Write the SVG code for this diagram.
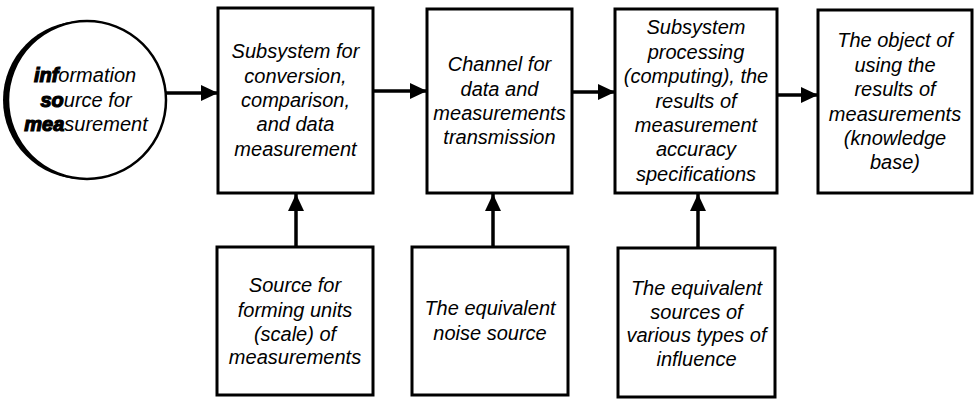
<svg xmlns="http://www.w3.org/2000/svg" width="976" height="401" viewBox="0 0 976 401">
  <style>
    .box { fill: #fff; stroke: #000; stroke-width: 3; }
    .lbl { font-family: "Liberation Sans", Arial, sans-serif; font-style: italic; font-size: 20px; fill: #000; text-anchor: middle; }
    .smear { font-weight: bold; stroke: #000; stroke-width: 1.2; }
    .wire { stroke: #000; stroke-width: 3.5; fill: none; }
  </style>
  <defs>
    <marker id="head" markerUnits="userSpaceOnUse" markerWidth="18" markerHeight="16" refX="17" refY="8" orient="auto">
      <path d="M0,0 L17,8 L0,16 z" fill="#000"/>
    </marker>
  </defs>
  <rect width="976" height="401" fill="#fff"/>

  <!-- source circle with heavy left rim -->
  <g id="info-source">
    <circle cx="82" cy="100" r="79" fill="#000"/>
    <circle cx="87" cy="100" r="79" fill="#fff" stroke="#000" stroke-width="2.5"/>
    <text class="lbl" x="85" y="82"><tspan class="smear">inf</tspan>ormation</text>
    <text class="lbl" x="86" y="107"><tspan class="smear">so</tspan>urce for</text>
    <text class="lbl" x="86" y="131"><tspan class="smear">mea</tspan>surement</text>
  </g>

  <g id="conversion">
    <rect class="box" x="218" y="8" width="155" height="185"/>
    <text class="lbl" x="295.5" y="58">Subsystem for</text>
    <text class="lbl" x="295.5" y="82.5">conversion,</text>
    <text class="lbl" x="295.5" y="107">comparison,</text>
    <text class="lbl" x="295.5" y="131">and data</text>
    <text class="lbl" x="295.5" y="155.5">measurement</text>
  </g>

  <g id="channel">
    <rect class="box" x="427" y="9" width="145" height="184"/>
    <text class="lbl" x="499.5" y="71">Channel for</text>
    <text class="lbl" x="499.5" y="95.5">data and</text>
    <text class="lbl" x="499.5" y="120">measurements</text>
    <text class="lbl" x="499.5" y="144">transmission</text>
  </g>

  <g id="processing">
    <rect class="box" x="615" y="9" width="162" height="184"/>
    <text class="lbl" x="696" y="34">Subsystem</text>
    <text class="lbl" x="696" y="58.5">processing</text>
    <text class="lbl" x="696" y="83">(computing), the</text>
    <text class="lbl" x="696" y="107.5">results of</text>
    <text class="lbl" x="696" y="132">measurement</text>
    <text class="lbl" x="696" y="156">accuracy</text>
    <text class="lbl" x="696" y="180.5">specifications</text>
  </g>

  <g id="knowledge">
    <rect class="box" x="818" y="10" width="154" height="183"/>
    <text class="lbl" x="895" y="47">The object of</text>
    <text class="lbl" x="895" y="71.5">using the</text>
    <text class="lbl" x="895" y="96">results of</text>
    <text class="lbl" x="895" y="120.5">measurements</text>
    <text class="lbl" x="895" y="145">(knowledge</text>
    <text class="lbl" x="895" y="169">base)</text>
  </g>

  <g id="units-source">
    <rect class="box" x="217" y="247" width="156" height="148"/>
    <text class="lbl" x="295" y="292">Source for</text>
    <text class="lbl" x="295" y="316.5">forming units</text>
    <text class="lbl" x="295" y="340.5">(scale) of</text>
    <text class="lbl" x="295" y="364">measurements</text>
  </g>

  <g id="noise-source">
    <rect class="box" x="412" y="247" width="156" height="148"/>
    <text class="lbl" x="490" y="315">The equivalent</text>
    <text class="lbl" x="490" y="339.5">noise source</text>
  </g>

  <g id="influence-source">
    <rect class="box" x="618" y="248" width="157" height="149"/>
    <text class="lbl" x="696.5" y="295">The equivalent</text>
    <text class="lbl" x="696.5" y="318.5">sources of</text>
    <text class="lbl" x="696.5" y="342">various types of</text>
    <text class="lbl" x="696.5" y="365.5">influence</text>
  </g>

  <g id="connectors">
    <line class="wire" x1="166" y1="93" x2="218" y2="93" marker-end="url(#head)"/>
    <line class="wire" x1="373" y1="91" x2="427" y2="91" marker-end="url(#head)"/>
    <line class="wire" x1="572" y1="92" x2="615" y2="92" marker-end="url(#head)"/>
    <line class="wire" x1="777" y1="95" x2="818" y2="95" marker-end="url(#head)"/>
    <line class="wire" x1="296" y1="247" x2="296" y2="194" marker-end="url(#head)"/>
    <line class="wire" x1="493" y1="247" x2="493" y2="194" marker-end="url(#head)"/>
    <line class="wire" x1="698" y1="248" x2="698" y2="194" marker-end="url(#head)"/>
  </g>
</svg>
